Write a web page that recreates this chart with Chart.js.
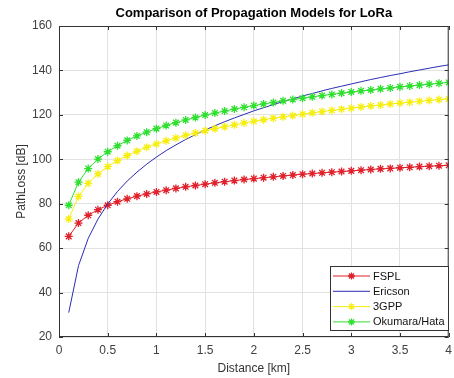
<!DOCTYPE html>
<html>
<head>
<meta charset="utf-8">
<script src="https://cdn.jsdelivr.net/npm/chart.js@4.4.1/dist/chart.umd.min.js"></script>
<style>
  html, body { margin: 0; padding: 0; background: #fff; }
  canvas { display: block; }
</style>
</head>
<body>
<canvas id="lossChart" width="454" height="378"></canvas>
<script>
var distance = [0.1, 0.2, 0.3, 0.4, 0.5, 0.6, 0.7, 0.8, 0.9, 1.0,
                1.1, 1.2, 1.3, 1.4, 1.5, 1.6, 1.7, 1.8, 1.9, 2.0,
                2.1, 2.2, 2.3, 2.4, 2.5, 2.6, 2.7, 2.8, 2.9, 3.0,
                3.1, 3.2, 3.3, 3.4, 3.5, 3.6, 3.7, 3.8, 3.9, 4.0];
var fspl = [65.3, 71.3, 74.8, 77.3, 79.3, 80.9, 82.2, 83.4, 84.4, 85.3,
            86.1, 86.9, 87.6, 88.2, 88.8, 89.4, 89.9, 90.4, 90.9, 91.3,
            91.7, 92.1, 92.5, 92.9, 93.3, 93.6, 93.9, 94.2, 94.5, 94.8,
            95.1, 95.4, 95.7, 95.9, 96.2, 96.4, 96.7, 96.9, 97.1, 97.3];
var ericson = [31.0, 52.1, 64.4, 73.1, 79.9, 85.5, 90.2, 94.2, 97.8, 101.0,
               103.9, 106.5, 108.9, 111.1, 113.2, 115.1, 116.9, 118.6, 120.2, 121.8,
               123.2, 124.6, 126.0, 127.2, 128.5, 129.6, 130.8, 131.9, 132.9, 133.9,
               134.9, 135.9, 136.8, 137.7, 138.5, 139.4, 140.2, 141.0, 141.8, 142.5];
var gpp3 = [73.1, 83.3, 89.2, 93.4, 96.7, 99.4, 101.7, 103.6, 105.4, 106.9,
            108.3, 109.6, 110.8, 111.8, 112.9, 113.8, 114.7, 115.5, 116.3, 117.1,
            117.8, 118.5, 119.1, 119.7, 120.3, 120.9, 121.5, 122.0, 122.5, 123.0,
            123.5, 124.0, 124.4, 124.9, 125.3, 125.7, 126.1, 126.5, 126.9, 127.2];
var okumura = [79.3, 89.7, 95.8, 100.1, 103.4, 106.1, 108.5, 110.5, 112.2, 113.8,
               115.2, 116.5, 117.7, 118.8, 119.9, 120.8, 121.7, 122.6, 123.4, 124.2,
               124.9, 125.6, 126.3, 126.9, 127.5, 128.1, 128.7, 129.2, 129.8, 130.3,
               130.8, 131.2, 131.7, 132.1, 132.6, 133.0, 133.4, 133.8, 134.2, 134.6];
var seriesNames = ['FSPL', 'Ericson', '3GPP', 'Okumara/Hata'];
var seriesColors = ['#e0202a', '#2c2cb4', '#f6ee10', '#2ee02e'];
var chartTitle = 'Comparison of Propagation Models for LoRa';

var axisColor = '#333333';

function toPoints(values) {
    return values.map(function (v, i) { return { x: distance[i], y: v }; });
}

function drawStar(ctx, x, y, r) {
    var d = r * 0.7071;
    ctx.beginPath();
    ctx.moveTo(x - r, y); ctx.lineTo(x + r, y);
    ctx.moveTo(x, y - r); ctx.lineTo(x, y + r);
    ctx.moveTo(x - d, y - d); ctx.lineTo(x + d, y + d);
    ctx.moveTo(x - d, y + d); ctx.lineTo(x + d, y - d);
    ctx.stroke();
}

// title centred over the plot, box with inward ticks, legend inside the axes
var matlabLook = {
    id: 'matlabLook',
    afterDraw: function (chart) {
        var ctx = chart.ctx;
        var a = chart.chartArea;
        var xs = chart.scales.x, ys = chart.scales.y;
        ctx.save();

        ctx.fillStyle = '#000';
        ctx.font = 'bold 13px "Liberation Sans", Arial, sans-serif';
        ctx.textAlign = 'center';
        ctx.textBaseline = 'middle';
        ctx.fillText(chartTitle, (a.left + a.right) / 2, 13);

        ctx.strokeStyle = axisColor;
        ctx.lineWidth = 1;
        ctx.strokeRect(a.left + 0.5, a.top + 0.5, a.right - a.left - 1, a.bottom - a.top - 1);
        ctx.beginPath();
        xs.ticks.forEach(function (t) {
            var px = Math.round(xs.getPixelForValue(t.value)) + 0.5;
            ctx.moveTo(px, a.bottom); ctx.lineTo(px, a.bottom - 4);
            ctx.moveTo(px, a.top); ctx.lineTo(px, a.top + 4);
        });
        ys.ticks.forEach(function (t) {
            var py = Math.round(ys.getPixelForValue(t.value)) + 0.5;
            ctx.moveTo(a.left, py); ctx.lineTo(a.left + 4, py);
            ctx.moveTo(a.right, py); ctx.lineTo(a.right - 4, py);
        });
        ctx.stroke();

        // legend
        var lx = 330, ly = 266, lw = 118, lh = 64;
        ctx.fillStyle = '#fff';
        ctx.fillRect(lx, ly, lw, lh);
        ctx.strokeStyle = axisColor;
        ctx.strokeRect(lx + 0.5, ly + 0.5, lw, lh);
        ctx.font = '11px "Liberation Sans", Arial, sans-serif';
        ctx.textAlign = 'left';
        chart.data.datasets.forEach(function (ds, i) {
            var y = ly + 10 + i * 15.3;
            ctx.strokeStyle = ds.borderColor;
            ctx.lineWidth = 1;
            ctx.beginPath();
            ctx.moveTo(lx + 3, y); ctx.lineTo(lx + 40, y);
            ctx.stroke();
            if (ds.pointRadius > 0) {
                ctx.lineWidth = 1.3;
                drawStar(ctx, lx + 21.5, y, 3.5);
            }
            ctx.fillStyle = '#111';
            ctx.fillText(ds.label, lx + 43, y + 0.5);
        });
        ctx.restore();
    }
};

function makeSet(i, values, withMarkers) {
    return {
        label: seriesNames[i],
        data: toPoints(values),
        borderColor: seriesColors[i],
        backgroundColor: seriesColors[i],
        borderWidth: 1,
        pointStyle: 'star',
        pointRadius: withMarkers ? 4 : 0,
        pointBorderWidth: 1.3,
        pointHoverRadius: 0,
        tension: 0,
        order: 4 - i
    };
}

var gridLook = {
    color: '#e2e2e2',
    lineWidth: 1,
    drawTicks: false
};
var tickFont = { family: '"Liberation Sans", Arial, sans-serif', size: 12 };

new Chart(document.getElementById('lossChart'), {
    type: 'line',
    data: {
        datasets: [
            makeSet(0, fspl, true),
            makeSet(1, ericson, false),
            makeSet(2, gpp3, true),
            makeSet(3, okumura, true)
        ]
    },
    options: {
        responsive: false,
        animation: false,
        devicePixelRatio: 1,
        layout: { padding: { top: 26, right: 1, left: 0, bottom: 0 } },
        plugins: {
            legend: { display: false },
            title: { display: false },
            tooltip: { enabled: false }
        },
        scales: {
            x: {
                type: 'linear',
                min: 0,
                max: 4,
                grid: gridLook,
                border: { display: false },
                ticks: {
                    stepSize: 0.5,
                    padding: 6,
                    color: '#404040',
                    font: tickFont,
                    maxRotation: 0,
                    callback: function (v) { return String(+Number(v).toFixed(1)); }
                },
                title: {
                    display: true,
                    text: 'Distance [km]',
                    color: '#333',
                    font: tickFont,
                    padding: { top: 0, bottom: 2.5 }
                },
                afterFit: function (s) {
                    s.height = 41;
                    s.paddingLeft = 0;
                    s.paddingRight = 0;
                }
            },
            y: {
                min: 20,
                max: 160,
                grid: gridLook,
                border: { display: false },
                ticks: { stepSize: 20, padding: 7, color: '#404040', font: tickFont },
                title: {
                    display: true,
                    text: 'PathLoss [dB]',
                    color: '#333',
                    font: tickFont,
                    padding: { top: 14, bottom: 0 }
                },
                afterFit: function (s) {
                    s.width = 59;
                    s.paddingTop = 0;
                    s.paddingBottom = 0;
                }
            }
        }
    },
    plugins: [matlabLook]
});
</script>
</body>
</html>
